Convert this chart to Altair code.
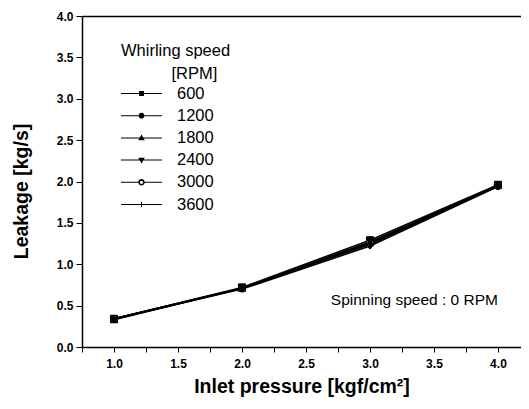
import altair as alt
import pandas as pd

pressure = [1.0, 2.0, 3.0, 4.0]
speeds = ["600", "1200", "1800", "2400", "3000", "3600"]
leak_600 = [0.34, 0.72, 1.29, 1.96]
leak_1200 = [0.34, 0.71, 1.27, 1.95]
leak_1800 = [0.33, 0.71, 1.26, 1.95]
leak_2400 = [0.34, 0.70, 1.22, 1.94]
leak_3000 = [0.34, 0.71, 1.25, 1.95]
leak_3600 = [0.34, 0.71, 1.24, 1.95]
series = [leak_600, leak_1200, leak_1800, leak_2400, leak_3000, leak_3600]

x_ticks = [0.75, 1.0, 1.25, 1.5, 1.75, 2.0, 2.25, 2.5, 2.75, 3.0, 3.25, 3.5, 3.75, 4.0]
y_ticks = [0.0, 0.25, 0.5, 0.75, 1.0, 1.25, 1.5, 1.75, 2.0, 2.25, 2.5, 2.75,
           3.0, 3.25, 3.5, 3.75, 4.0]

note_text = ["Spinning speed : 0 RPM"]
note_x = [4.0]
note_y = [0.57]

rows = []
for sp, vals in zip(speeds, series):
    for p, v in zip(pressure, vals):
        rows.append({"pressure": p, "leak": v, "speed": sp})
df = pd.DataFrame(rows)
note_df = pd.DataFrame({"x": note_x, "y": note_y, "t": note_text})

FONT = "Liberation Sans"
major = "abs(datum.value*2 - round(datum.value*2)) < 0.001"

xscale = alt.Scale(domain=[0.75, 4.18], nice=False, zero=False)
yscale = alt.Scale(domain=[0, 4], nice=False)

xaxis = alt.Axis(values=x_ticks, title="Inlet pressure [kgf/cm²]",
                 labelExpr=f"({major}) && datum.value >= 1 ? format(datum.value, '.1f') : ''",
                 labelFont=FONT, labelFontSize=12, labelFontWeight="bold", labelColor="black",
                 labelPadding=6, tickSize=5, tickColor="black", tickWidth=1,
                 domainColor="black", domainWidth=1.5, grid=False,
                 titleFont=FONT, titleFontSize=19.5, titleFontWeight="bold", titleColor="black",
                 titlePadding=8, labelFlush=False)
yaxis = alt.Axis(values=y_ticks, title="Leakage [kg/s]",
                 labelExpr=f"({major}) ? format(datum.value, '.1f') : ''",
                 labelFont=FONT, labelFontSize=12, labelFontWeight="bold", labelColor="black",
                 labelPadding=3,
                 tickSize={"condition": {"test": major, "value": 6}, "value": 3.5},
                 tickColor="black", tickWidth=1,
                 domainColor="black", domainWidth=1.5, grid=False,
                 titleFont=FONT, titleFontSize=19.5, titleFontWeight="bold", titleColor="black",
                 titlePadding=25, titleY=175, labelFlush=False)

base = alt.Chart(df)

lines = base.mark_line(color="black", strokeWidth=1.6).encode(
    x=alt.X("pressure:Q", scale=xscale, axis=xaxis),
    y=alt.Y("leak:Q", scale=yscale, axis=yaxis),
    detail="speed:N",
)

points = base.mark_point(stroke="black", strokeWidth=1, size=50, opacity=1).encode(
    x=alt.X("pressure:Q", scale=xscale, axis=None),
    y=alt.Y("leak:Q", scale=yscale),
    shape=alt.Shape("speed:N", legend=None,
                    scale=alt.Scale(domain=speeds,
                                    range=["square", "circle", "triangle-up",
                                           "triangle-down", "circle", "cross"])),
    fill=alt.Fill("speed:N", legend=None,
                  scale=alt.Scale(domain=speeds,
                                  range=["black", "black", "black", "black", "white", "black"])),
)

# legend glyphs: a thin filled bar (the line) plus the marker, in unit coordinates
line_h = "M-1,-0.025H1V0.025H-1Z"
legend_paths = [
    line_h + "M-0.12,-0.12h0.24v0.24h-0.24Z",
    line_h + "M-0.14,0a0.14,0.14 0 1,1 0.28,0a0.14,0.14 0 1,1 -0.28,0Z",
    line_h + "M0,-0.17L0.16,0.12L-0.16,0.12Z",
    line_h + "M0,0.17L-0.16,-0.12L0.16,-0.12Z",
    "M-1,-0.025H-0.15V0.025H-1Z M0.15,-0.025H1V0.025H0.15Z"
    + "M-0.16,0a0.16,0.16 0 1,1 0.32,0a0.16,0.16 0 1,1 -0.32,0Z"
    + "M-0.08,0a0.08,0.08 0 1,0 0.16,0a0.08,0.08 0 1,0 -0.16,0Z",
    line_h + "M-0.025,-0.13H0.025V0.13H-0.025Z",
]

legend_layer = base.transform_filter("false").mark_point(
    fill="black", stroke="black", strokeWidth=0, opacity=1, filled=True
).encode(
    x=alt.X("pressure:Q", scale=xscale, axis=None),
    y=alt.Y("leak:Q", scale=yscale),
    shape=alt.Shape("speed:N",
                    scale=alt.Scale(domain=speeds, range=legend_paths),
                    legend=alt.Legend(
                        title=["Whirling speed", "\u200b" + "\u00a0" * 11 + "[RPM]"],
                        orient="none", legendX=39, legendY=27,
                        titleFont=FONT, titleFontSize=16.5, titleFontWeight="normal",
                        titleColor="black", titleLineHeight=23, titlePadding=1,
                        labelFont=FONT, labelFontSize=16.5, labelColor="black",
                        labelOffset=15, symbolSize=1681, symbolStrokeWidth=0,
                        symbolFillColor="black", clipHeight=20,
                        symbolOpacity=1, rowPadding=2.2, padding=0,
                    )),
)

note = alt.Chart(note_df).mark_text(
    align="right", baseline="middle", font=FONT, fontSize=15.5, color="black"
).encode(
    x=alt.X("x:Q", scale=xscale,
            axis=alt.Axis(orient="top", labels=False, ticks=False, title=None,
                          domainColor="black", domainWidth=1.5, grid=False)),
    y=alt.Y("y:Q", scale=yscale),
    text="t:N",
)

chart = alt.layer(lines, points, legend_layer, note).resolve_scale(
    shape="independent", fill="independent"
).resolve_axis(x="independent").properties(
    width=439, height=331,
    autosize=alt.AutoSizeParams(type="none"),
    padding={"left": 74, "top": 8, "right": 0, "bottom": 50},
).configure_view(stroke=None).configure(background="white")

chart.save("out.html", embed_options={"renderer": "svg", "actions": False})
